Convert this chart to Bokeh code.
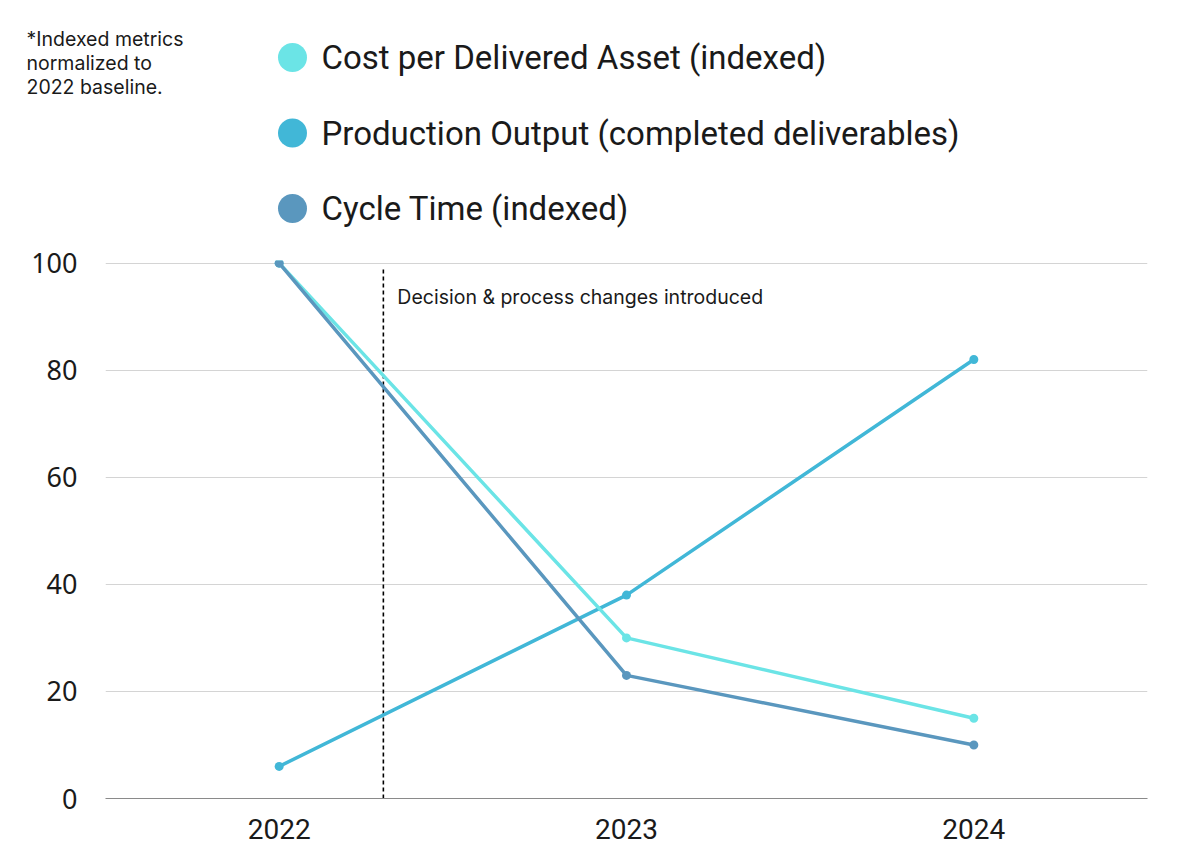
from bokeh.plotting import figure
from bokeh.models import Range1d, FixedTicker, ColumnDataSource
from bokeh.core.properties import value
from bokeh.embed import file_html
from bokeh.resources import INLINE

years = [2022, 2023, 2024]
cost = [100, 30, 15]
production = [6, 38, 82]
cycle = [100, 23, 10]
series_names = ["Cost per Delivered Asset (indexed)",
                "Production Output (completed deliverables)",
                "Cycle Time (indexed)"]
series_colors = ["#6BE4E6", "#41B7D7", "#5A97BE"]
y_ticks = [0, 20, 40, 60, 80, 100]
note_lines = ["*Indexed metrics", "normalized to", "2022 baseline."]
event_x = 2022.3
event_label = "Decision & process changes introduced"

W = 1165
TOP_H = 236

# ---- top panel: footnote + legend (pixel-mapped ranges) ----
top = figure(width=W, height=TOP_H, output_backend="svg", toolbar_location=None,
             x_range=Range1d(0, W), y_range=Range1d(TOP_H, 0),
             min_border=0, outline_line_color=None)
top.axis.visible = False
top.grid.visible = False

leg_y = [57 + 75.5 * i for i in range(len(series_names))]
top.scatter(x=[292] * len(series_names), y=leg_y, size=29,
            color=series_colors, line_color=None)
top.text(x=[321] * len(series_names), y=leg_y, text=series_names,
         text_font=value("Roboto"), text_font_size="33px", text_color="#1a1a1a",
         text_baseline="middle", text_align="left")
top.text(x=[26] * len(note_lines), y=[38 + 24 * i for i in range(len(note_lines))],
         text=note_lines, text_font=value("Inter"), text_font_size="19.5px",
         text_color="#1a1a1a", text_baseline="middle", text_align="left")

# ---- main chart ----
p = figure(width=W, height=620, output_backend="svg", toolbar_location=None,
           x_range=Range1d(2021.5, 2024.5), y_range=Range1d(0, 100.5),
           frame_width=1042, frame_height=538,
           min_border_left=105, min_border_right=18, min_border_top=24,
           min_border_bottom=58, outline_line_color=None)

p.xaxis.ticker = FixedTicker(ticks=years)
p.xaxis.major_label_overrides = {y: str(y) for y in years}
p.yaxis.ticker = FixedTicker(ticks=y_ticks)
p.xgrid.visible = False
p.ygrid.grid_line_color = "#d4d4d4"
p.ygrid.grid_line_width = 1
p.ygrid.ticker = FixedTicker(ticks=[t for t in y_ticks if t > 0])

p.yaxis.axis_line_color = None
p.yaxis.major_tick_line_color = None
p.yaxis.minor_tick_line_color = None
p.yaxis.major_label_text_font = "Noto Sans"
p.yaxis.major_label_text_font_size = "27px"
p.yaxis.major_label_text_color = "#1a1a1a"
p.yaxis.major_label_standoff = 22

p.xaxis.axis_line_color = "#8a8a8a"
p.xaxis.axis_line_width = 1.2
p.xaxis.major_tick_line_color = None
p.xaxis.minor_tick_line_color = None
p.xaxis.major_label_text_font = "Roboto"
p.xaxis.major_label_text_font_size = "28px"
p.xaxis.major_label_text_color = "#1a1a1a"
p.xaxis.major_label_standoff = 14

# event marker
p.segment(x0=[event_x], y0=[0], x1=[event_x], y1=[99], line_color="black",
          line_width=1.6, line_dash="4 3")
p.text(x=[event_x], y=[93.6], text=[event_label], x_offset=14,
       text_font=value("Inter"), text_font_size="19.5px", text_color="#1a1a1a",
       text_baseline="middle", text_align="left")

for vals, col in [(production, series_colors[1]), (cost, series_colors[0]), (cycle, series_colors[2])]:
    src = ColumnDataSource(dict(x=years, y=vals))
    p.line("x", "y", source=src, line_color=col, line_width=3.5)
    p.scatter("x", "y", source=src, size=9, color=col, line_color=None)

open("out.html", "w").write(file_html([top, p], INLINE))
